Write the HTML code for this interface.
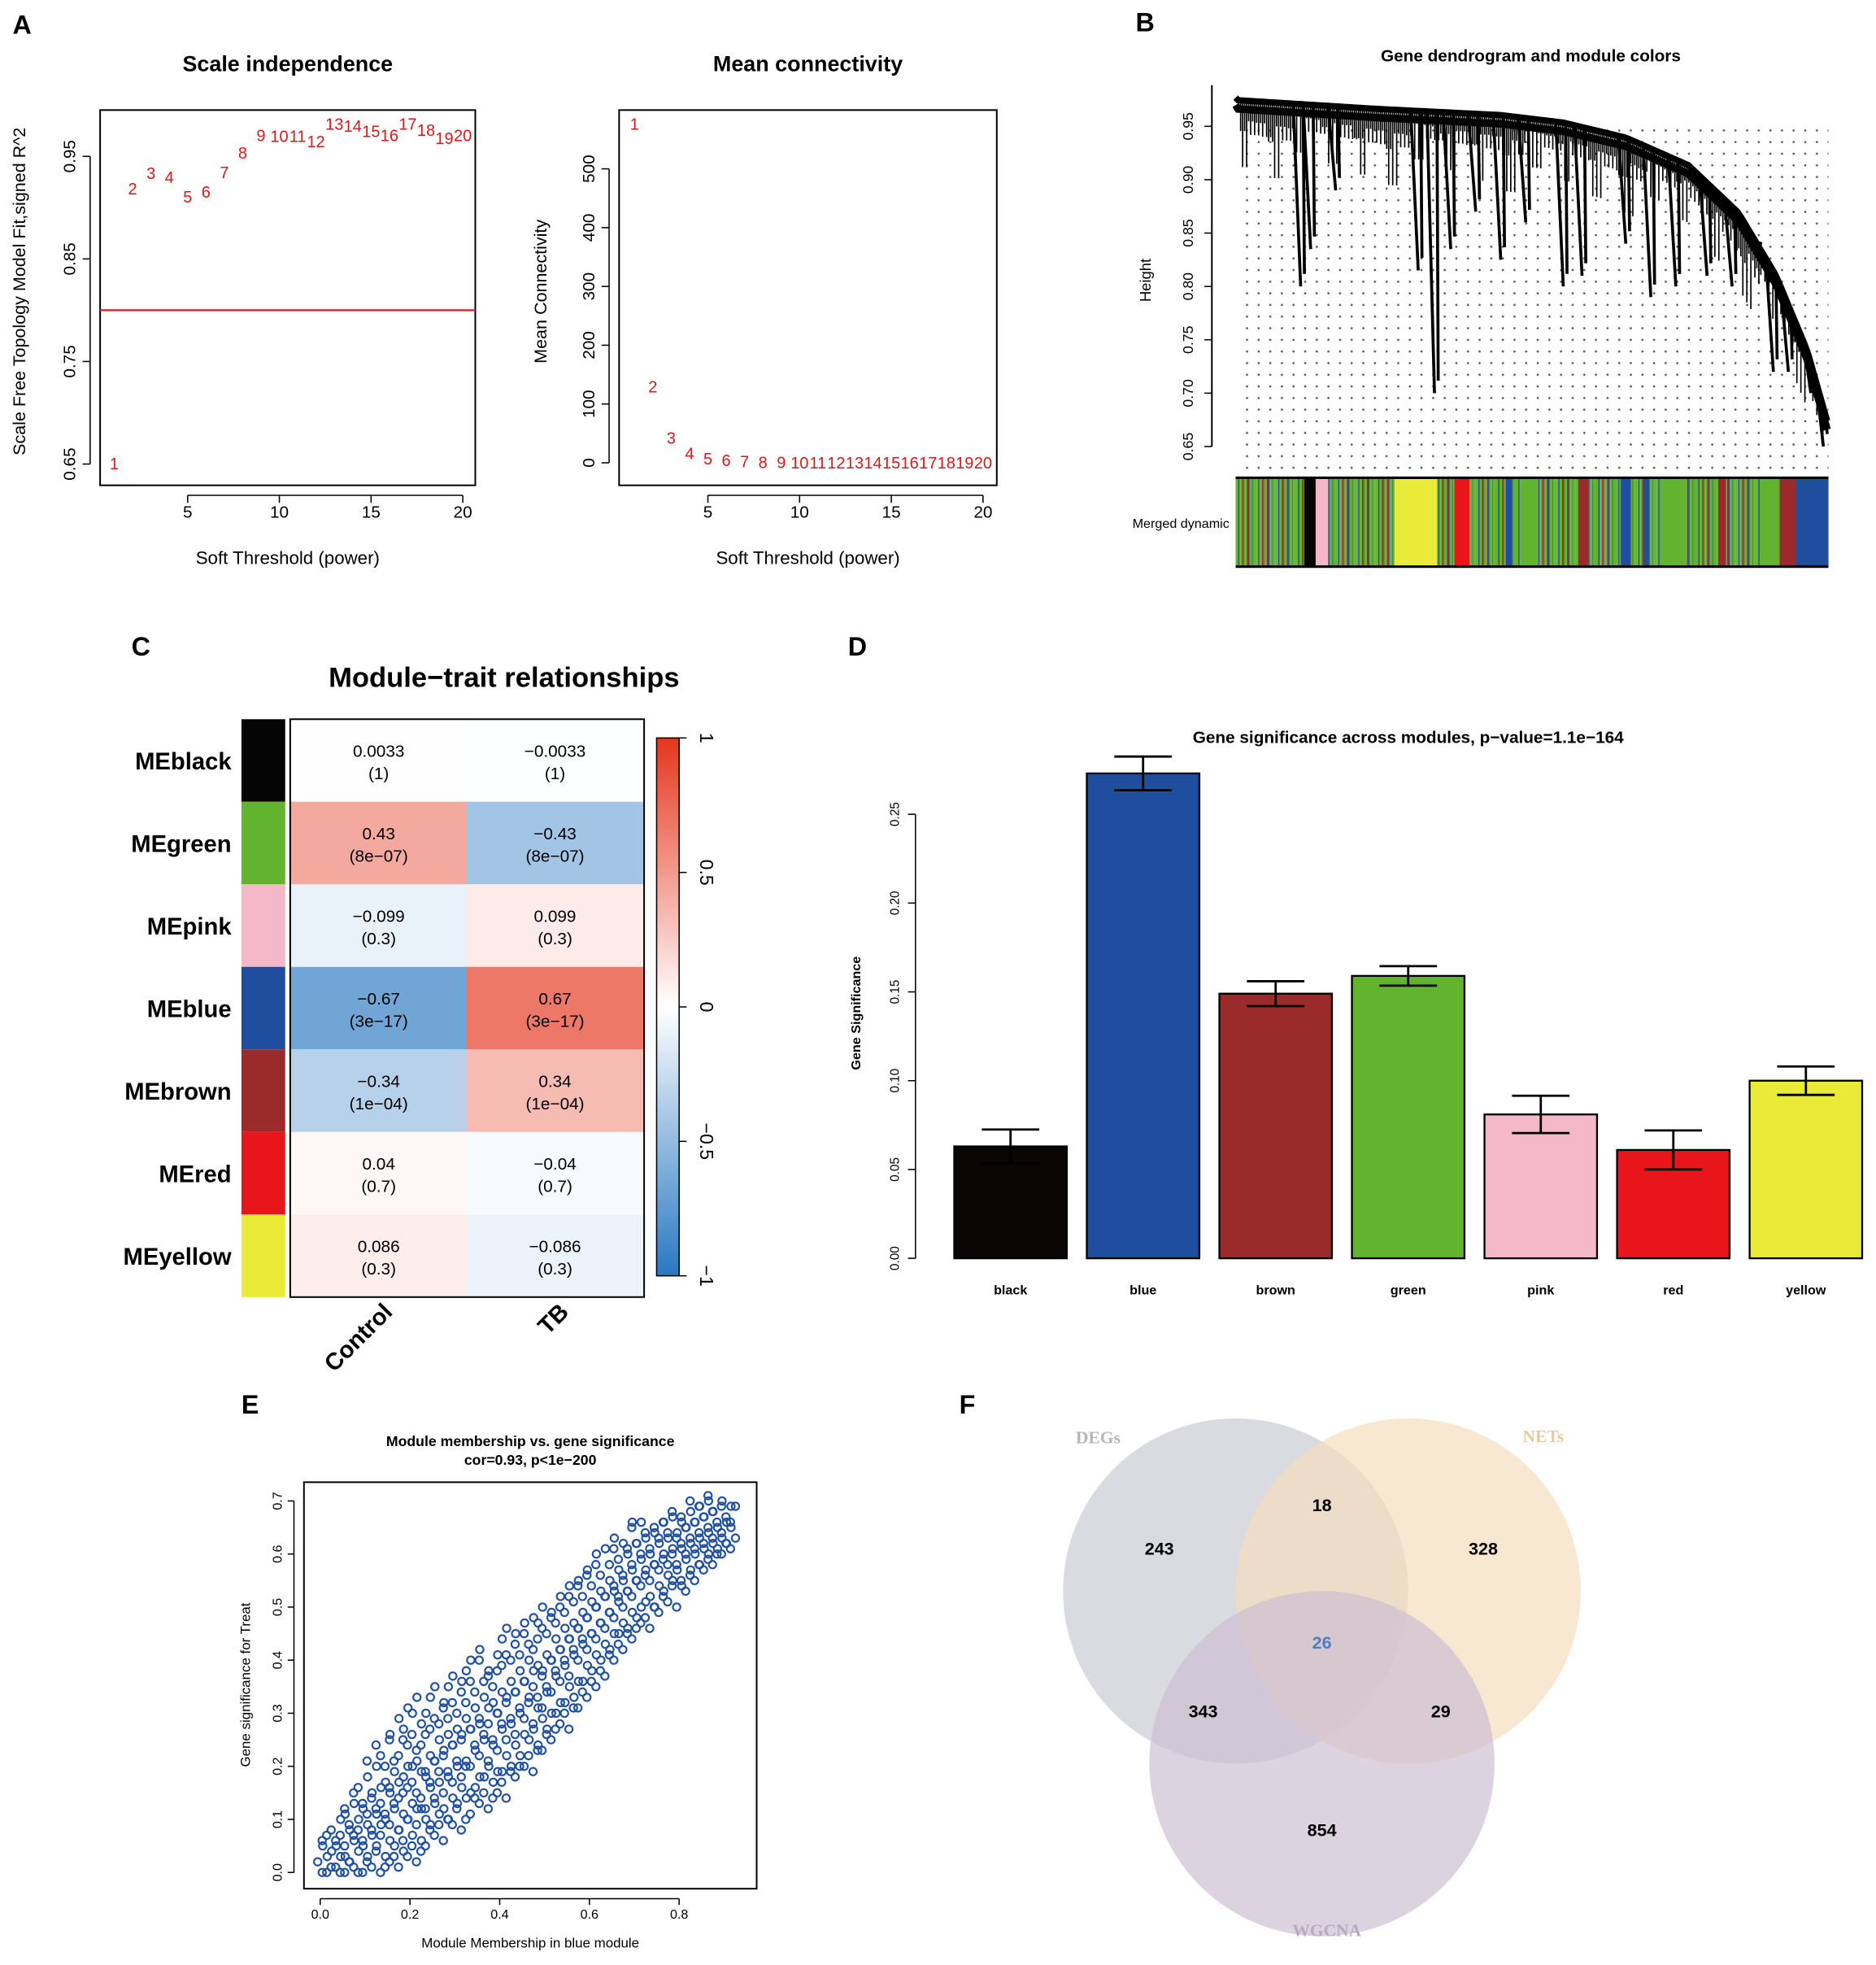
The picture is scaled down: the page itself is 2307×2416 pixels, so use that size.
<!DOCTYPE html>
<html><head><meta charset="utf-8"><style>
html,body{margin:0;padding:0;background:#fff}
svg{display:block}
text{font-family:"Liberation Sans",Arial,sans-serif}
</style></head><body>
<svg id="fig" width="2307" height="2416" viewBox="0 0 1500 1571" xmlns="http://www.w3.org/2000/svg">
<defs>
<pattern id="dots" x="0" y="0" width="9.3" height="9.3" patternUnits="userSpaceOnUse"><circle cx="2" cy="2" r="0.85" fill="#555"/></pattern>
<linearGradient id="cbar" x1="0" y1="1" x2="0" y2="0"><stop offset="0" stop-color="#2a78c2"/><stop offset="0.5" stop-color="#ffffff"/><stop offset="1" stop-color="#e5361e"/></linearGradient>
</defs>
<g id="letters" font-weight="bold" font-size="21">
<text x="10" y="27">A</text>
<text x="908" y="25">B</text>
<text x="105" y="524">C</text>
<text x="678" y="524">D</text>
<text x="193" y="1130">E</text>
<text x="767" y="1130">F</text>
</g>
<g id="pA1"></g>
<g id="pA2"></g>
<g id="pB"></g>
<g id="pC"></g>
<g id="pD"></g>
<g id="pE"></g>
<g id="pF"></g>
</svg>
<script>
// ---------- data ----------
const powers=[1,2,3,4,5,6,7,8,9,10,11,12,13,14,15,16,17,18,19,20];
const fitR2=[0.651,0.919,0.934,0.93,0.911,0.916,0.935,0.954,0.971,0.97,0.97,0.965,0.982,0.98,0.975,0.971,0.982,0.976,0.968,0.971];
const meanConn=[577,130,43,17,8,5,3,2,1.5,1,1,1,1,1,1,1,1,1,1,1];
const aXTicks=[5,10,15,20];
const fitTicks=[0.65,0.75,0.85,0.95];
const connTicks=[0,100,200,300,400,500];
const heightTicks=[0.65,0.70,0.75,0.80,0.85,0.90,0.95];
const modules=["MEblack","MEgreen","MEpink","MEblue","MEbrown","MEred","MEyellow"];
const modColors=["#050505","#62b42f","#f4b8c8","#1f4e9e","#9b2a2a","#e8161a","#eaea38"];
const traits=["Control","TB"];
const corControl=[0.0033,0.43,-0.099,-0.67,-0.34,0.04,0.086];
const pControl=["(1)","(8e\u221207)","(0.3)","(3e\u221217)","(1e\u221204)","(0.7)","(0.3)"];
const corTB=[-0.0033,-0.43,0.099,0.67,0.34,-0.04,-0.086];
const pTB=["(1)","(8e\u221207)","(0.3)","(3e\u221217)","(1e\u221204)","(0.7)","(0.3)"];
const corLabC=["0.0033","0.43","\u22120.099","\u22120.67","\u22120.34","0.04","0.086"];
const corLabT=["\u22120.0033","\u22120.43","0.099","0.67","0.34","\u22120.04","\u22120.086"];
const cbTicks=[-1,-0.5,0,0.5,1];
const cbLabels=["\u22121","\u22120.5","0","0.5","1"];
const barCats=["black","blue","brown","green","pink","red","yellow"];
const barColors=["#0a0606","#1f4e9e","#9b2a2a","#62b42f","#f4b8c8","#e8161a","#eaea38"];
const gsMean=[0.063,0.273,0.149,0.159,0.081,0.061,0.100];
const gsErr=[0.0095,0.0095,0.007,0.0055,0.0105,0.011,0.008];
const gsTicks=[0,0.05,0.10,0.15,0.20,0.25];
const mmBins=[0,0.02,0.04,0.06,0.08,0.10,0.12,0.14,0.16,0.18,0.20,0.22,0.24,0.26,0.28,0.30,0.32,0.34,0.36,0.38,0.40,0.42,0.44,0.46,0.48,0.50,0.52,0.54,0.56,0.58,0.60,0.62,0.64,0.66,0.68,0.70,0.72,0.74,0.76,0.78,0.80,0.82,0.84,0.86,0.88,0.90,0.92];
const gsVals=[[0.02,0.05],[0,0.04,0.07],[0.01,0.03,0.06,0.1],[0,0.02,0.05,0.08,0.12],[0.01,0.04,0.07,0.1,0.15],[0,0.03,0.06,0.09,0.13,0.18],[0.01,0.05,0.08,0.11,0.14,0.2],[0,0.03,0.07,0.1,0.13,0.17,0.22],[0.02,0.05,0.09,0.12,0.16,0.19,0.25],[0.01,0.04,0.08,0.11,0.14,0.18,0.22,0.27],[0.03,0.07,0.1,0.13,0.16,0.2,0.24,0.3],[0.02,0.06,0.09,0.12,0.15,0.19,0.23,0.28],[0.05,0.09,0.12,0.16,0.19,0.22,0.26,0.33],[0.07,0.11,0.14,0.17,0.21,0.25,0.29],[0.06,0.1,0.15,0.18,0.22,0.26,0.31,0.35],[0.09,0.13,0.17,0.2,0.24,0.27,0.32],[0.08,0.14,0.18,0.21,0.25,0.29,0.34,0.38],[0.11,0.16,0.2,0.23,0.27,0.31,0.36],[0.13,0.18,0.22,0.25,0.29,0.33,0.4],[0.12,0.17,0.21,0.24,0.28,0.32,0.37],[0.15,0.19,0.23,0.27,0.3,0.34,0.38,0.44],[0.14,0.2,0.25,0.28,0.32,0.36,0.41],[0.18,0.22,0.26,0.3,0.34,0.38,0.43],[0.2,0.25,0.29,0.33,0.36,0.4,0.45],[0.19,0.24,0.28,0.31,0.35,0.39,0.42,0.47],[0.23,0.27,0.31,0.34,0.37,0.41,0.46],[0.25,0.3,0.34,0.37,0.4,0.44,0.48],[0.28,0.32,0.36,0.39,0.42,0.46,0.5],[0.27,0.33,0.37,0.41,0.44,0.47,0.52],[0.31,0.36,0.4,0.43,0.46,0.49,0.54],[0.33,0.38,0.42,0.45,0.48,0.51,0.56],[0.35,0.4,0.44,0.47,0.5,0.53,0.58],[0.37,0.42,0.46,0.49,0.52,0.55],[0.4,0.45,0.48,0.51,0.54,0.57,0.61],[0.42,0.46,0.5,0.53,0.56,0.6],[0.44,0.48,0.52,0.55,0.58,0.62,0.65],[0.47,0.51,0.54,0.57,0.6,0.63],[0.46,0.5,0.55,0.58,0.61,0.64],[0.49,0.53,0.57,0.6,0.63,0.66],[0.51,0.55,0.58,0.61,0.64,0.67],[0.5,0.54,0.58,0.61,0.63,0.66],[0.53,0.57,0.6,0.62,0.65,0.68],[0.55,0.58,0.61,0.63,0.66,0.69],[0.57,0.6,0.62,0.64,0.67,0.7],[0.58,0.61,0.63,0.65,0.68],[0.6,0.62,0.64,0.66,0.69],[0.61,0.63,0.66,0.69]];
const mmBins2=[0.01,0.03,0.05,0.07,0.09,0.11,0.13,0.15,0.17,0.19,0.21,0.23,0.25,0.27,0.29,0.31,0.33,0.35,0.37,0.39,0.41,0.43,0.45,0.47,0.49,0.51,0.53,0.55,0.57,0.59,0.61,0.63,0.65,0.67,0.69,0.71,0.73,0.75,0.77,0.79,0.81,0.83,0.85,0.87,0.89,0.91];
const gsVals2=[[0,0.03,0.06],[0.01,0.05,0.08],[0,0.03,0.07,0.11],[0.02,0.06,0.09,0.13],[0,0.05,0.08,0.12,0.16],[0.02,0.07,0.11,0.15,0.21],[0.04,0.09,0.12,0.16,0.24],[0.01,0.06,0.11,0.15,0.2,0.26],[0.03,0.08,0.13,0.17,0.21,0.29],[0.06,0.1,0.15,0.2,0.25,0.31],[0.05,0.12,0.17,0.21,0.26,0.33],[0.04,0.1,0.14,0.18,0.24,0.3],[0.08,0.13,0.17,0.21,0.27,0.35],[0.09,0.12,0.19,0.23,0.28,0.32],[0.1,0.14,0.19,0.24,0.29,0.37],[0.12,0.16,0.21,0.26,0.3,0.36],[0.1,0.15,0.2,0.27,0.32,0.4],[0.14,0.18,0.24,0.28,0.34,0.42],[0.15,0.2,0.26,0.31,0.36,0.38],[0.14,0.19,0.25,0.3,0.35,0.41],[0.17,0.22,0.28,0.33,0.39,0.46],[0.19,0.24,0.29,0.34,0.4,0.45],[0.2,0.26,0.31,0.36,0.41,0.47],[0.22,0.27,0.32,0.38,0.43,0.48],[0.23,0.29,0.33,0.38,0.44,0.5],[0.26,0.3,0.35,0.4,0.45,0.49],[0.27,0.32,0.38,0.42,0.47,0.52],[0.3,0.35,0.4,0.44,0.49,0.54],[0.31,0.36,0.42,0.46,0.51,0.55],[0.34,0.39,0.44,0.48,0.52,0.57],[0.36,0.41,0.45,0.5,0.54,0.6],[0.38,0.43,0.47,0.52,0.56,0.61],[0.41,0.45,0.49,0.53,0.58,0.63],[0.43,0.47,0.52,0.55,0.59,0.62],[0.45,0.49,0.53,0.57,0.61,0.66],[0.46,0.5,0.55,0.59,0.62,0.66],[0.48,0.52,0.56,0.6,0.64],[0.5,0.54,0.58,0.62,0.65],[0.52,0.56,0.59,0.63,0.66],[0.54,0.57,0.6,0.64,0.68],[0.55,0.59,0.62,0.65,0.67],[0.56,0.6,0.63,0.66,0.7],[0.58,0.61,0.64,0.67,0.69],[0.59,0.62,0.65,0.68,0.71],[0.6,0.63,0.66,0.7],[0.62,0.65,0.67,0.69]];
const mmTicks=[0,0.2,0.4,0.6,0.8];
const gsScTicks=[0,0.1,0.2,0.3,0.4,0.5,0.6,0.7];
const vennSets=["DEGs","NETs","WGCNA"];
const vennCounts=["243","18","328","26","343","29","854"];
// dendrogram major branches: x position and merge height bottom
const branchX=[1040,1048,1068,1134,1147,1160,1180,1200,1220,1250,1265,1300,1320,1340,1365,1385,1405,1418,1430,1448,1458];
const branchH=[0.80,0.835,0.89,0.815,0.70,0.835,0.87,0.825,0.86,0.80,0.81,0.84,0.79,0.80,0.81,0.80,0.83,0.72,0.72,0.70,0.65];

const NS="http://www.w3.org/2000/svg";
function el(parent,tag,attrs,txt){const e=document.createElementNS(NS,tag);for(const k in attrs)e.setAttribute(k,attrs[k]);if(txt!==undefined)e.textContent=txt;parent.appendChild(e);return e;}
function lin(d0,d1,r0,r1){return v=>r0+(v-d0)*(r1-r0)/(d1-d0);}

// ---------- Panel A1 ----------
(function(){
const g=document.getElementById('pA1');
const x=lin(5,20,150,370), y=lin(0.95,0.65,125,371);
el(g,'rect',{x:80,y:88,width:300,height:300,fill:'none',stroke:'#000','stroke-width':1.3});
let t=el(g,'text',{x:230,y:57,'text-anchor':'middle','font-size':17.5,'font-weight':'bold'},'Scale independence');

el(g,'line',{x1:x(5),x2:x(20),y1:396,y2:396,stroke:'#000'});
aXTicks.forEach(v=>{el(g,'line',{x1:x(v),x2:x(v),y1:396,y2:402,stroke:'#000'});el(g,'text',{x:x(v),y:414,'text-anchor':'middle','font-size':13.5},v);});
el(g,'line',{x1:72,x2:72,y1:y(0.95),y2:y(0.65),stroke:'#000'});
fitTicks.forEach(v=>{el(g,'line',{x1:66,x2:72,y1:y(v),y2:y(v),stroke:'#000'});el(g,'text',{x:56,y:y(v),'text-anchor':'middle','font-size':13.5,transform:`rotate(-90 56 ${y(v)})`,'dominant-baseline':'central'},v.toFixed(2));});
el(g,'text',{x:230,y:451,'text-anchor':'middle','font-size':14.5},'Soft Threshold (power)');
el(g,'text',{x:20,y:233,'text-anchor':'middle','font-size':14,transform:'rotate(-90 20 233)'},'Scale Free Topology Model Fit,signed R^2');
el(g,'line',{x1:80,x2:380,y1:y(0.80),y2:y(0.80),stroke:'#e31a1c','stroke-width':1.5});
powers.forEach((p,i)=>{const e=el(g,'text',{x:x(p),y:y(fitR2[i])+5,'text-anchor':'middle','font-size':13,fill:'#d7191c'},p);

});
})();
// ---------- Panel A2 ----------
(function(){
const g=document.getElementById('pA2');
const x=lin(5,20,566,786), y=lin(0,500,370,135);
el(g,'rect',{x:495,y:88,width:302,height:300,fill:'none',stroke:'#000','stroke-width':1.3});
el(g,'text',{x:646,y:57,'text-anchor':'middle','font-size':17.5,'font-weight':'bold'},'Mean connectivity');
el(g,'line',{x1:x(5),x2:x(20),y1:396,y2:396,stroke:'#000'});
aXTicks.forEach(v=>{el(g,'line',{x1:x(v),x2:x(v),y1:396,y2:402,stroke:'#000'});el(g,'text',{x:x(v),y:414,'text-anchor':'middle','font-size':13.5},v);});
el(g,'line',{x1:487,x2:487,y1:y(0),y2:y(500),stroke:'#000'});
connTicks.forEach(v=>{el(g,'line',{x1:481,x2:487,y1:y(v),y2:y(v),stroke:'#000'});el(g,'text',{x:471,y:y(v),'text-anchor':'middle','font-size':13.5,transform:`rotate(-90 471 ${y(v)})`,'dominant-baseline':'central'},v);});
el(g,'text',{x:646,y:451,'text-anchor':'middle','font-size':14.5},'Soft Threshold (power)');
el(g,'text',{x:437,y:233,'text-anchor':'middle','font-size':14,transform:'rotate(-90 437 233)'},'Mean Connectivity');
powers.forEach((p,i)=>{const e=el(g,'text',{x:x(p),y:y(meanConn[i])+5,'text-anchor':'middle','font-size':13,fill:'#d7191c'},p);

});
})();
// ---------- Panel B ----------
(function(){
const g=document.getElementById('pB');
const y=lin(0.95,0.65,101,357);
el(g,'text',{x:1224,y:49,'text-anchor':'middle','font-size':13.5,'font-weight':'bold'},'Gene dendrogram and module colors');
el(g,'rect',{x:994,y:96,width:468,height:284,fill:'url(#dots)'});
el(g,'line',{x1:969,x2:969,y1:68,y2:357,stroke:'#000','stroke-width':1.3});
heightTicks.forEach(v=>{el(g,'line',{x1:963,x2:969,y1:y(v),y2:y(v),stroke:'#000'});el(g,'text',{x:950,y:y(v),'text-anchor':'middle','font-size':11.5,transform:`rotate(-90 950 ${y(v)})`,'dominant-baseline':'central'},v.toFixed(2));});
el(g,'text',{x:920,y:224,'text-anchor':'middle','font-size':12,transform:'rotate(-90 920 224)'},'Height');
const env=[[988,80],[1100,87],[1200,92],[1250,98],[1300,110],[1350,132],[1390,170],[1420,220],[1445,280],[1462,340]];
const top=xx=>{for(let i=1;i<env.length;i++){if(xx<=env[i][0]){const a=env[i-1],b=env[i];return a[1]+(xx-a[0])*(b[1]-a[1])/(b[0]-a[0]);}}return 340;};
let d='M988,78';for(let xx=990;xx<=1462;xx+=3)d+=` L${xx},${top(xx)}`;
el(g,'path',{d:d,fill:'none',stroke:'#000','stroke-width':5});
d='M988,84';for(let xx=990;xx<=1462;xx+=3)d+=` L${xx},${top(xx)+7}`;
el(g,'path',{d:d,fill:'none',stroke:'#000','stroke-width':6});
for(let xx=992;xx<1458;xx+=1.6){const k=(Math.floor(xx*7.31)%23);el(g,'line',{x1:xx,x2:xx,y1:top(xx),y2:top(xx)+10+k*(k%3===0?2.4:0.9),stroke:'#000','stroke-width':1.1});}
branchX.forEach((bx,i)=>{const e=el(g,'path',{d:`M${bx-6},${top(bx-6)} L${bx},${y(branchH[i])} M${bx+2},${top(bx+2)} L${bx+3},${y(branchH[i])-10}`,stroke:'#000','stroke-width':2.4,fill:'none'});

});
// color bar
const mix=["#62b42f","#62b42f","#9b2a2a","#62b42f","#1f4e9e","#62b42f","#62b42f","#7a6a3a","#4a8a50","#62b42f","#1f4e9e","#9b2a2a"];
for(let i=0;i<474;i++){el(g,'rect',{x:988+i,y:382,width:1.05,height:71,fill:mix[(i*5+Math.floor(i/4))%mix.length]});}
const segs=[[1043,1052,"#050505"],[1052,1062,"#f4b8c8"],[1115,1149,"#eaea38"],[1163,1175,"#e8161a"],[1204,1209,"#1f4e9e"],[1217,1230,"#62b42f"],[1262,1270,"#9b2a2a"],[1296,1304,"#1f4e9e"],[1314,1319,"#1f4e9e"],[1328,1348,"#62b42f"],[1374,1380,"#9b2a2a"],[1407,1423,"#62b42f"],[1423,1436,"#9b2a2a"],[1436,1462,"#1f4e9e"]];
segs.forEach(s=>el(g,'rect',{x:s[0],y:382,width:s[1]-s[0],height:71,fill:s[2]}));
el(g,'line',{x1:988,x2:1462,y1:382,y2:382,stroke:'#000','stroke-width':2});
el(g,'line',{x1:988,x2:1462,y1:453,y2:453,stroke:'#000','stroke-width':2});
el(g,'text',{x:983,y:422,'text-anchor':'end','font-size':10.5},'Merged dynamic');
})();
// ---------- Panel C ----------
(function(){
const g=document.getElementById('pC');
el(g,'text',{x:403,y:549,'text-anchor':'middle','font-size':22.5,'font-weight':'bold'},'Module\u2212trait relationships');
const rowH=66,top0=575,cx=[232,373],cw=141.5;
const col=v=>{const a=Math.min(1,Math.abs(v));const c=v>0?[229,54,30]:[42,120,194];const m=c.map(ch=>Math.round(255+(ch-255)*a));return `rgb(${m[0]},${m[1]},${m[2]})`;};
modules.forEach((m,i)=>{
 const yy=top0+i*rowH;
 el(g,'rect',{x:193,y:yy,width:35,height:rowH,fill:modColors[i]});
 el(g,'text',{x:185,y:yy+40,'text-anchor':'end','font-size':19,'font-weight':'bold'},m);
 [[corControl,pControl,corLabC],[corTB,pTB,corLabT]].forEach((arr,j)=>{
  const r=el(g,'rect',{x:cx[j],y:yy,width:cw,height:rowH,fill:col(arr[0][i])});
  
  
  el(g,'text',{x:cx[j]+cw/2,y:yy+30,'text-anchor':'middle','font-size':13.5},arr[2][i]);
  el(g,'text',{x:cx[j]+cw/2,y:yy+48,'text-anchor':'middle','font-size':13.5},arr[1][i]);
 });
});
el(g,'rect',{x:232,y:575,width:283,height:462,fill:'none',stroke:'#000','stroke-width':1.3});
traits.forEach((t,j)=>{const tx=cx[j]+cw/2+12,ty=1050;el(g,'text',{x:tx,y:ty,'text-anchor':'end','font-size':19,'font-weight':'bold',transform:`rotate(-45 ${tx} ${ty})`},t);});
const cy=lin(-1,1,1020,590);
el(g,'rect',{x:525,y:590,width:18,height:430,fill:'url(#cbar)',stroke:'#000','stroke-width':1});
cbTicks.forEach((v,i)=>{el(g,'line',{x1:543,x2:549,y1:cy(v),y2:cy(v),stroke:'#000'});el(g,'text',{x:565,y:cy(v),'text-anchor':'middle','font-size':15,transform:`rotate(90 565 ${cy(v)})`,'dominant-baseline':'central'},cbLabels[i]);});
})();
// ---------- Panel D ----------
(function(){
const g=document.getElementById('pD');
const y=lin(0,0.25,1006,651);
el(g,'text',{x:1126,y:594,'text-anchor':'middle','font-size':13.5,'font-weight':'bold'},'Gene significance across modules, p\u2212value=1.1e\u2212164');
el(g,'line',{x1:732,x2:732,y1:y(0),y2:y(0.25),stroke:'#000'});
gsTicks.forEach(v=>{el(g,'line',{x1:726,x2:732,y1:y(v),y2:y(v),stroke:'#000'});el(g,'text',{x:716,y:y(v),'text-anchor':'middle','font-size':10,transform:`rotate(-90 716 ${y(v)})`,'dominant-baseline':'central'},v.toFixed(2));});
el(g,'text',{x:688,y:810,'text-anchor':'middle','font-size':10.5,'font-weight':'bold',transform:'rotate(-90 688 810)'},'Gene Significance');
barCats.forEach((c,i)=>{
 const cxp=808+i*106;
 const b=el(g,'rect',{x:cxp-45,y:y(gsMean[i]),width:90,height:y(0)-y(gsMean[i]),fill:barColors[i],stroke:'#000','stroke-width':1.5});
 
 
 const t=y(gsMean[i]+gsErr[i]),bo=y(gsMean[i]-gsErr[i]);
 el(g,'path',{d:`M${cxp},${t} V${bo} M${cxp-23},${t} H${cxp+23} M${cxp-23},${bo} H${cxp+23}`,stroke:'#000','stroke-width':1.8,fill:'none'});
 el(g,'text',{x:cxp,y:1035,'text-anchor':'middle','font-size':10.5,'font-weight':'bold'},c);
});
})();
// ---------- Panel E ----------
(function(){
const g=document.getElementById('pE');
const x=lin(0,0.8,256,543), y=lin(0,0.7,1497,1200);
el(g,'text',{x:424,y:1156,'text-anchor':'middle','font-size':11.5,'font-weight':'bold'},'Module membership vs. gene significance');
el(g,'text',{x:424,y:1171,'text-anchor':'middle','font-size':11.5,'font-weight':'bold'},'cor=0.93, p<1e\u2212200');
el(g,'rect',{x:243,y:1185,width:362,height:325,fill:'none',stroke:'#000','stroke-width':1.3});
el(g,'line',{x1:x(0),x2:x(0.8),y1:1518,y2:1518,stroke:'#000'});
mmTicks.forEach(v=>{el(g,'line',{x1:x(v),x2:x(v),y1:1518,y2:1523,stroke:'#000'});el(g,'text',{x:x(v),y:1534,'text-anchor':'middle','font-size':10.5},v.toFixed(1));});
el(g,'line',{x1:235,x2:235,y1:y(0),y2:y(0.7),stroke:'#000'});
gsScTicks.forEach(v=>{el(g,'line',{x1:230,x2:235,y1:y(v),y2:y(v),stroke:'#000'});el(g,'text',{x:222,y:y(v),'text-anchor':'middle','font-size':10.5,transform:`rotate(-90 222 ${y(v)})`,'dominant-baseline':'central'},v.toFixed(1));});
el(g,'text',{x:424,y:1557,'text-anchor':'middle','font-size':11},'Module Membership in blue module');
el(g,'text',{x:200,y:1347,'text-anchor':'middle','font-size':11,transform:'rotate(-90 200 1347)'},'Gene significance for  Treat');
[[mmBins,gsVals],[mmBins2,gsVals2]].forEach(([bins,vals])=>{
bins.forEach((mx,i)=>{vals[i].forEach((gv,j)=>{
 const c=el(g,'circle',{cx:x(mx)+(j%2?2:-2),cy:y(gv),r:3,fill:'none',stroke:'#2150a0','stroke-width':1.4});
 
 
});});});
})();
// ---------- Panel F ----------
(function(){
const g=document.getElementById('pF');
const circ=[[988,1272,'#c9ccd3'],[1126,1272,'#f5ddbe'],[1057,1410,'#cdbfd3']];
circ.forEach((c,i)=>{const e=el(g,'circle',{cx:c[0],cy:c[1],r:138,fill:c[2],'fill-opacity':0.7});

});
const sf='font-family:"Liberation Serif",serif';
el(g,'text',{x:878,y:1154,'text-anchor':'middle','font-size':14,'font-weight':'bold',fill:'#b3b6bf',style:sf},vennSets[0]);
el(g,'text',{x:1234,y:1153,'text-anchor':'middle','font-size':14,'font-weight':'bold',fill:'#e9c9a0',style:sf},vennSets[1]);
el(g,'text',{x:1061,y:1548,'text-anchor':'middle','font-size':14,'font-weight':'bold',fill:'#b8a9c0',style:sf},vennSets[2]);
const pos=[[927,1243],[1057,1208],[1186,1243],[1057,1318],[962,1373],[1152,1373],[1057,1468]];
pos.forEach((p,i)=>el(g,'text',{x:p[0],y:p[1],'text-anchor':'middle','font-size':14,'font-weight':'bold',fill:i===3?'#4a80c0':'#000'},vennCounts[i]));
})();
</script>
</body></html>
